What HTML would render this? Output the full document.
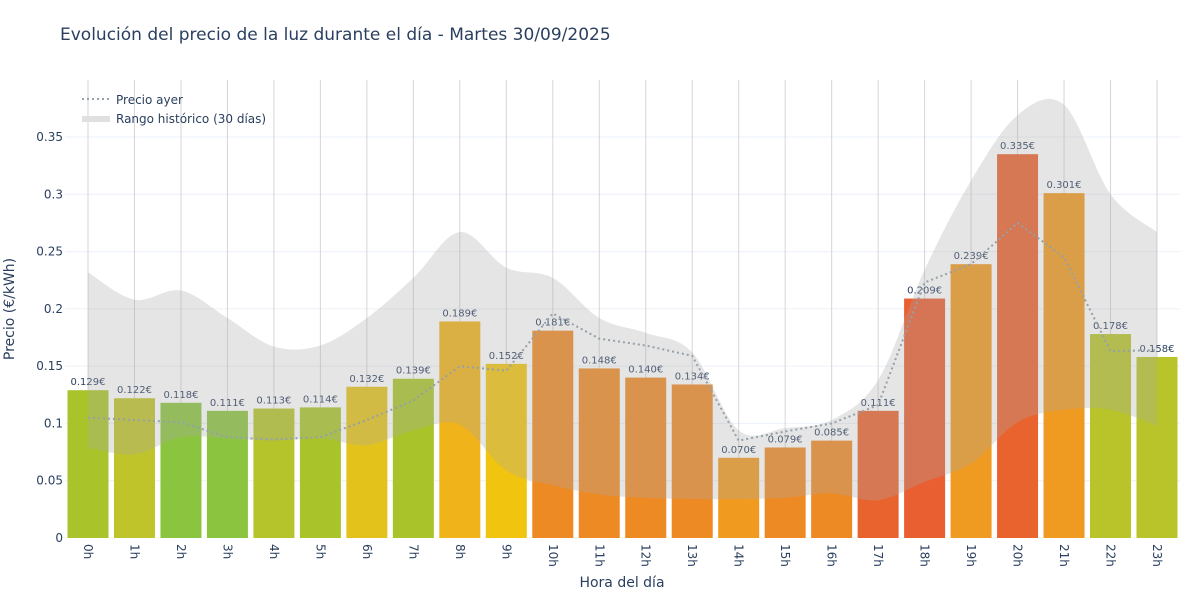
<!DOCTYPE html>
<html><head><meta charset="utf-8"><style>
body{margin:0;background:#fff;}
svg text{font-family:"DejaVu Sans","Liberation Sans",sans-serif;fill:#2a3f5f;}
</style></head><body>
<svg id="s" width="1200" height="600" xmlns="http://www.w3.org/2000/svg"></svg>
<script>
const s=document.getElementById('s');
const X=i=>88+i*46.478, Y=v=>538-v*1145.7;
const vals=[.129,.122,.118,.111,.113,.114,.132,.139,.189,.152,.181,.148,.140,.134,.070,.079,.085,.111,.209,.239,.335,.301,.178,.158];
const cols=['#a8c42a','#bfc42a','#8bc53f','#8bc53f','#b4c42a','#a8c42a','#e3c31b','#a8c42a','#f0b41a','#f1c40f','#ee8a24','#ee8a24','#ee8a24','#ee8a24','#f09a20','#ee8a24','#ee8a24','#e9632f','#e95f32','#ef9a20','#e9632f','#ef9a20','#b8c42a','#b8c42a'];
const up=[.232,.208,.216,.192,.167,.168,.192,.227,.267,.236,.227,.192,.179,.162,.094,.096,.103,.138,.234,.312,.369,.378,.3,.267];
const lo=[.079,.073,.088,.087,.085,.087,.081,.094,.099,.059,.046,.038,.035,.034,.034,.035,.039,.033,.049,.065,.101,.112,.112,.098];
const ay=[.105,.103,.101,.088,.086,.088,.103,.12,.15,.146,.196,.174,.168,.159,.085,.093,.10,.116,.223,.239,.275,.245,.163,.164];
let h='';
h+='<text x="60" y="40" font-size="17">Evolución del precio de la luz durante el día - Martes 30/09/2025</text>';
for(let k=1;k<=7;k++){const y=Y(k*.05);h+=`<line x1="65" x2="1180" y1="${y}" y2="${y}" stroke="#ebf0f8"/>`;}
for(let i=0;i<24;i++)h+=`<line x1="${X(i)}" x2="${X(i)}" y1="80" y2="538" stroke="#d6d6d6"/>`;
const tl=['0','0.05','0.1','0.15','0.2','0.25','0.3','0.35'];
tl.forEach((t,k)=>h+=`<text x="63" y="${Y(k*.05)+4}" font-size="12" text-anchor="end">${t}</text>`);
h+='<text transform="translate(14,309) rotate(-90)" font-size="14" text-anchor="middle">Precio (€/kWh)</text>';
h+='<text x="622" y="587" font-size="14" text-anchor="middle">Hora del día</text>';
for(let i=0;i<24;i++){const x=X(i)-20.5,y=Y(vals[i]);
h+=`<rect x="${x}" y="${y}" width="41" height="${538-y}" fill="${cols[i]}"/>`;
h+=`<text x="${X(i)}" y="${y-5}" font-size="10" text-anchor="middle">${vals[i].toFixed(3)}€</text>`;
h+=`<text transform="translate(${X(i)-4},544) rotate(90)" font-size="12">${i}h</text>`;}
function spline(p){let d=`${p[0][0]},${p[0][1]}`;for(let i=0;i<p.length-1;i++){const a=p[Math.max(i-1,0)],b=p[i],c=p[i+1],e=p[Math.min(i+2,p.length-1)];d+=` C${b[0]+(c[0]-a[0])/6},${b[1]+(c[1]-a[1])/6} ${c[0]-(e[0]-b[0])/6},${c[1]-(e[1]-b[1])/6} ${c[0]},${c[1]}`;}return d;}
const pu=up.map((v,i)=>[X(i),Y(v)]), pl=lo.map((v,i)=>[X(i),Y(v)]).reverse();
h+=`<path d="M${spline(pu)} L${spline(pl)} Z" fill="rgba(170,170,170,0.3)"/>`;
h+=`<polyline points="${ay.map((v,i)=>X(i)+','+Y(v)).join(' ')}" fill="none" stroke="#95a0a8" stroke-width="2" stroke-dasharray="2,3"/>`;
h+='<line x1="82" x2="110" y1="99" y2="99" stroke="#95a0a8" stroke-width="2" stroke-dasharray="2,3"/><text x="116" y="104" font-size="12">Precio ayer</text>';
h+='<rect x="82" y="116" width="28" height="6" fill="#e0e0e0"/><text x="116" y="123" font-size="12">Rango histórico (30 días)</text>';
s.innerHTML=h;
</script>
</body></html>
